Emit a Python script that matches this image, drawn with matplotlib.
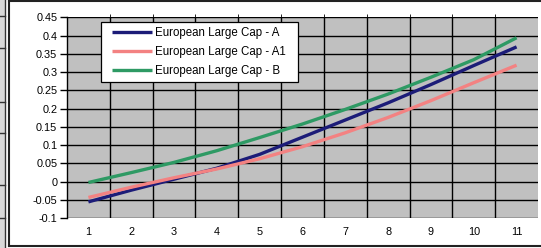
import matplotlib
matplotlib.use("Agg")
import matplotlib.pyplot as plt
from matplotlib.patches import Rectangle
from matplotlib.lines import Line2D

plt.rcParams['font.family'] = ['Liberation Sans', 'DejaVu Sans']

categories = [1, 2, 3, 4, 5, 6, 7, 8, 9, 10, 11]
series_a = [-0.055, -0.023, 0.007, 0.037, 0.075, 0.122, 0.169, 0.216, 0.266, 0.318, 0.369]
series_a1 = [-0.043, -0.015, 0.011, 0.035, 0.063, 0.096, 0.134, 0.176, 0.222, 0.271, 0.319]
series_b = [-0.002, 0.025, 0.053, 0.085, 0.121, 0.158, 0.198, 0.240, 0.286, 0.334, 0.394]
labels = ["European Large Cap - A", "European Large Cap - A1", "European Large Cap - B"]
colors = ["#1c1c78", "#f38282", "#2e9a64"]
yticks = [-0.1, -0.05, 0, 0.05, 0.1, 0.15, 0.2, 0.25, 0.3, 0.35, 0.4, 0.45]
ytick_labels = ["-0.1", "-0.05", "0", "0.05", "0.1", "0.15", "0.2", "0.25", "0.3", "0.35", "0.4", "0.45"]

W, H = 541, 248
fig = plt.figure(figsize=(W / 100, H / 100), dpi=100)
fig.patch.set_facecolor("white")

# left spreadsheet strip and chart frame
fig.add_artist(Rectangle((0, 0), 4.5 / W, 1, transform=fig.transFigure, facecolor="#d8d8d8", edgecolor="none"))
fig.add_artist(Line2D([4.5 / W, 4.5 / W], [0, 1], transform=fig.transFigure, color="#333333", lw=1))
for yy in [16, 48, 102, 133, 185, 218]:
    fig.add_artist(Line2D([0, 4.5 / W], [1 - yy / H, 1 - yy / H], transform=fig.transFigure, color="#333333", lw=1))
fig.add_artist(Line2D([9 / W, 9 / W], [2 / H, 1 - 1 / H], transform=fig.transFigure, color="#222222", lw=1.5))
fig.add_artist(Line2D([9 / W, 1], [1 - 1 / H, 1 - 1 / H], transform=fig.transFigure, color="#222222", lw=1.5))
fig.add_artist(Line2D([9 / W, 1], [2 / H, 2 / H], transform=fig.transFigure, color="#222222", lw=1.5))

px_l, px_r, px_t, px_b = 67, 538, 17.3, 218.3
left, right = px_l / W, px_r / W
bottom, top = 1 - px_b / H, 1 - px_t / H
ax = fig.add_axes([left, bottom, right - left, top - bottom])
ax.set_facecolor("#c0c0c0")

for vals, lab, col in zip([series_a, series_a1, series_b], labels, colors):
    ax.plot(categories, vals, color=col, lw=2.4, label=lab, solid_capstyle="butt", zorder=3)

ax.set_xlim(0.5, 11.5)
ax.set_ylim(-0.1, 0.45)
ax.set_yticks(yticks)
ax.set_yticklabels(ytick_labels)
ax.set_xticks(categories)
ax.set_xticklabels([str(c) for c in categories])
ax.set_xticks([c + 0.5 for c in categories[:-1]], minor=True)

ax.grid(True, which="major", axis="y", color="black", lw=1)
ax.grid(True, which="minor", axis="x", color="black", lw=1)
ax.set_axisbelow(True)

for s in ["top", "right", "bottom"]:
    ax.spines[s].set_visible(False)
ax.spines["left"].set_color("black")
ax.spines["left"].set_linewidth(1)

ax.tick_params(axis="y", which="major", length=5, width=1, direction="out", pad=2, labelsize=7.8, colors="black")
ax.tick_params(axis="x", which="major", length=0, pad=6, labelsize=7.8)
ax.tick_params(axis="x", which="minor", length=2, top=True, bottom=False, direction="out")

# legend box (white frame)
def ax_x(px):
    return (px - px_l) / (px_r - px_l)

def ax_y(py):
    return (px_b - py) / (px_b - px_t)

bx0, bx1, by0, by1 = 100.7, 297.7, 22.3, 81.7
ax.add_patch(Rectangle((ax_x(bx0), ax_y(by1)), ax_x(bx1) - ax_x(bx0), ax_y(by0) - ax_y(by1),
                       transform=ax.transAxes, facecolor="white", edgecolor="black", lw=0.9, zorder=4))

leg = ax.legend(loc="upper left", bbox_to_anchor=(ax_x(bx0 + 6), ax_y(by0 - 1)),
                frameon=False, fontsize=8.3, handlelength=3.4, handletextpad=0.3,
                labelspacing=0.6, borderpad=0.5, borderaxespad=0)
leg.set_zorder(5)

fig.savefig("out.png", dpi=100, facecolor="white")
